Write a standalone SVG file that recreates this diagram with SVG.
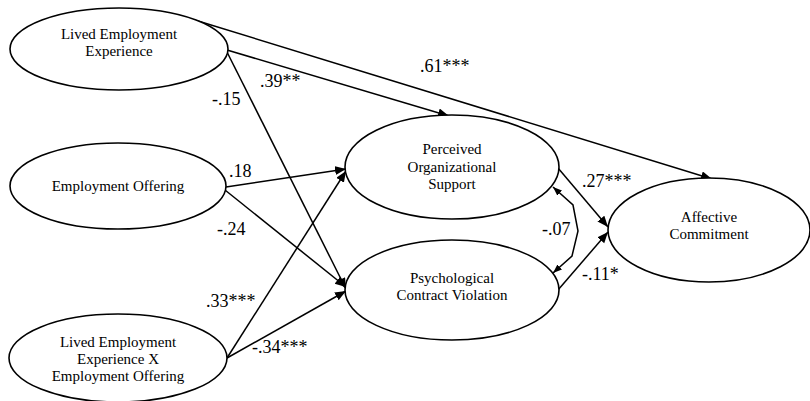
<svg xmlns="http://www.w3.org/2000/svg" width="810" height="401" viewBox="0 0 810 401">
<style>
.node ellipse{fill:#fff;stroke:#000;stroke-width:1.6}
.node text{font-family:"Liberation Serif","Times New Roman",serif;font-size:15px;fill:#000;text-anchor:middle}
.lbl{font-family:"Liberation Serif","Times New Roman",serif;font-size:18px;fill:#000}
.conn path,.conn line{stroke:#000;stroke-width:1.5;fill:none}
</style>
<defs>
<marker id="ah" markerUnits="userSpaceOnUse" markerWidth="12" markerHeight="10" refX="11" refY="4.5" orient="auto">
<path d="M0,0 L11,4.5 L0,9 z" fill="#000"/>
</marker>
<marker id="ahs" markerUnits="userSpaceOnUse" markerWidth="10" markerHeight="8" refX="9" refY="3.5" orient="auto-start-reverse">
<path d="M0,0 L9,3.5 L0,7 z" fill="#000"/>
</marker>
</defs>
<g class="conn">
<line x1="198" y1="21" x2="712" y2="179" marker-end="url(#ah)"/>
<line x1="227" y1="50" x2="449" y2="116" marker-end="url(#ah)"/>
<line x1="227" y1="52" x2="346" y2="289" marker-end="url(#ah)"/>
<line x1="226" y1="187" x2="346" y2="169" marker-end="url(#ah)"/>
<line x1="225" y1="190" x2="346" y2="287" marker-end="url(#ah)"/>
<line x1="227" y1="358" x2="346" y2="171" marker-end="url(#ah)"/>
<line x1="227" y1="358" x2="346" y2="291" marker-end="url(#ah)"/>
<line x1="558" y1="168" x2="608" y2="227" marker-end="url(#ah)"/>
<line x1="558" y1="290" x2="608" y2="232" marker-end="url(#ah)"/>
<path d="M553,187 L573,205 L578,231 L572,256 L553,273" stroke-width="1.2" marker-start="url(#ahs)" marker-end="url(#ahs)"/>
</g>
<g id="lee" class="node">
<ellipse cx="119" cy="49" rx="109" ry="41"/>
<text x="119" y="39">Lived Employment</text>
<text x="119" y="56">Experience</text>
</g>
<g id="eo" class="node">
<ellipse cx="118" cy="186" rx="108" ry="43"/>
<text x="118" y="191">Employment Offering</text>
</g>
<g id="int" class="node">
<ellipse cx="118" cy="358" rx="109" ry="44"/>
<text x="118" y="347">Lived Employment</text>
<text x="118" y="364">Experience X</text>
<text x="118" y="381">Employment Offering</text>
</g>
<g id="pos" class="node">
<ellipse cx="452" cy="167" rx="107" ry="52"/>
<text x="452" y="154">Perceived</text>
<text x="452" y="172">Organizational</text>
<text x="452" y="189">Support</text>
</g>
<g id="pcv" class="node">
<ellipse cx="452" cy="290" rx="107" ry="50"/>
<text x="452" y="283">Psychological</text>
<text x="452" y="300">Contract Violation</text>
</g>
<g id="ac" class="node">
<ellipse cx="709" cy="230" rx="101" ry="52"/>
<text x="709" y="222">Affective</text>
<text x="709" y="239">Commitment</text>
</g>
<g id="labels">
<text class="lbl" x="420" y="72">.61***</text>
<text class="lbl" x="260" y="87">.39**</text>
<text class="lbl" x="212" y="105">-.15</text>
<text class="lbl" x="229" y="177">.18</text>
<text class="lbl" x="217" y="235">-.24</text>
<text class="lbl" x="206" y="307">.33***</text>
<text class="lbl" x="252" y="353">-.34***</text>
<text class="lbl" x="582" y="187">.27***</text>
<text class="lbl" x="542" y="235">-.07</text>
<text class="lbl" x="582" y="280">-.11*</text>
</g>
</svg>
